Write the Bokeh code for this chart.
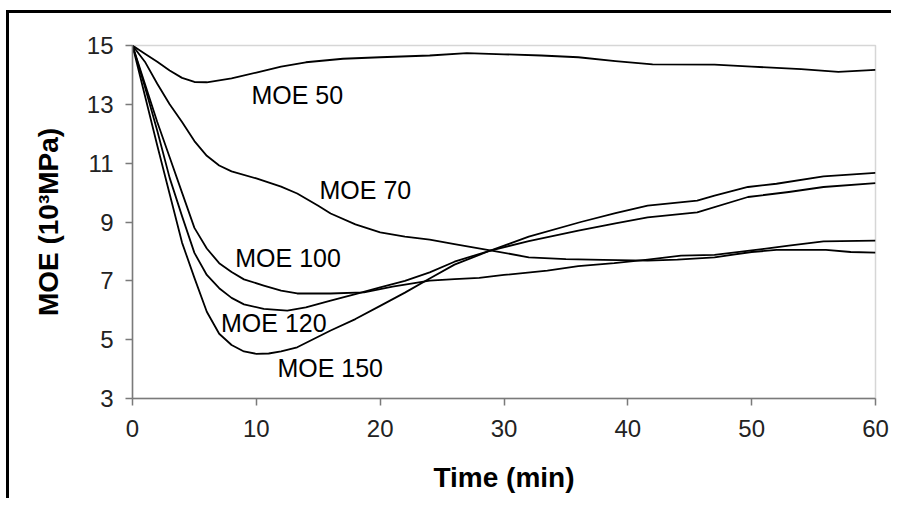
from bokeh.plotting import figure
from bokeh.models import FixedTicker, Range1d
from bokeh.core.properties import value
from bokeh.embed import file_html
from bokeh.resources import INLINE

# ---- data ----
t50 = [0, 1, 2, 3, 4, 5, 6, 8, 10, 12, 14, 17, 20, 24, 27, 30, 33, 36, 39, 42, 47, 50, 54, 57, 60]
v50 = [15.0, 14.72, 14.45, 14.15, 13.9, 13.76, 13.75, 13.88, 14.08, 14.28, 14.43, 14.55, 14.6, 14.66, 14.74,
       14.7, 14.66, 14.6, 14.47, 14.36, 14.35, 14.28, 14.2, 14.1, 14.17]

t70 = [0, 1, 2, 3, 4, 5, 6, 7, 8, 10, 12, 13.3, 15, 16, 18, 20, 22, 24, 26, 29, 32, 35, 38, 41.6, 44, 47, 50, 52, 56, 58, 60]
v70 = [15.0, 14.45, 13.7, 13.0, 12.4, 11.75, 11.25, 10.92, 10.72, 10.48, 10.2, 9.97, 9.55, 9.29, 8.92, 8.65, 8.5,
       8.4, 8.25, 8.03, 7.8, 7.74, 7.71, 7.69, 7.72, 7.8, 7.98, 8.05, 8.05, 7.98, 7.96]

t100 = [0, 1, 2, 3, 4, 5, 6, 7, 8, 9, 10.6, 12, 13.3, 16, 18.7, 21, 24, 26, 28, 30, 33.5, 36, 38.9, 41.6, 44.3, 47, 51, 53, 55.8, 60]
v100 = [15.0, 13.7, 12.4, 11.2, 10.0, 8.8, 8.1, 7.6, 7.3, 7.05, 6.84, 6.67, 6.57, 6.57, 6.61, 6.8, 7.01, 7.06,
        7.1, 7.2, 7.35, 7.5, 7.6, 7.72, 7.86, 7.88, 8.09, 8.2, 8.34, 8.37]

t120 = [0, 1, 2, 3, 4, 5, 6, 7, 8, 9, 10.6, 12.5, 14, 16, 18, 20, 22, 24, 26, 28.9, 32, 36, 39, 41.6, 45.6, 49.7, 53, 55.8, 60]
v120 = [15.0, 13.6, 12.1, 10.5, 9.2, 7.95, 7.2, 6.75, 6.42, 6.2, 6.05, 5.99, 6.1, 6.33, 6.55, 6.78, 7.0, 7.29,
        7.65, 8.03, 8.35, 8.71, 8.95, 9.16, 9.33, 9.85, 10.02, 10.19, 10.32]

t150 = [0, 1, 2, 3, 4, 5, 6, 7, 8, 9, 10, 11, 12, 13.3, 16, 18, 20, 22, 24, 26, 28.9, 32, 36.2, 39, 41.6, 45.6, 47, 49.7, 52, 55.8, 60]
v150 = [15.0, 13.3, 11.6, 9.95, 8.3, 7.1, 5.95, 5.2, 4.82, 4.6, 4.52, 4.53, 4.6, 4.74, 5.31, 5.7, 6.15, 6.6,
        7.08, 7.55, 8.03, 8.5, 9.0, 9.3, 9.56, 9.73, 9.9, 10.19, 10.3, 10.55, 10.67]

labels = ["MOE  50", "MOE  70", "MOE 100", "MOE 120", "MOE 150"]
label_t = [9.6, 15.1, 8.3, 7.15, 11.7]
label_v = [13.33, 10.09, 7.78, 5.55, 4.05]

x_ticks = [0, 10, 20, 30, 40, 50, 60]
y_ticks = [3, 5, 7, 9, 11, 13, 15]

FONT = "Liberation Sans"

p = figure(width=885, height=488, output_backend="svg", toolbar_location=None,
           x_range=Range1d(0, 60), y_range=Range1d(3, 15),
           min_border_left=123, min_border_right=19, min_border_top=32, min_border_bottom=103)
p.styles = {"border-left": "3px solid black", "border-top": "3px solid black",
            "margin-top": "10px", "margin-left": "6px"}

p.xgrid.visible = False
p.ygrid.visible = False
p.outline_line_color = "#d6d6d6"
p.outline_line_width = 1.5
p.background_fill_color = "white"
p.border_fill_color = "white"

for ax in (p.xaxis, p.yaxis):
    ax.axis_line_color = "#7a7a7a"
    ax.axis_line_width = 1.5
    ax.major_tick_line_color = "#7a7a7a"
    ax.major_tick_line_width = 1.5
    ax.major_tick_in = 0
    ax.major_tick_out = 7
    ax.minor_tick_line_color = None
    ax.major_label_text_font = FONT
    ax.major_label_text_font_size = "24px"
    ax.major_label_text_color = "#222222"
    ax.axis_label_text_font = FONT
    ax.axis_label_text_font_size = "28px"
    ax.axis_label_text_font_style = "bold"
    ax.axis_label_text_color = "black"

p.xaxis.ticker = FixedTicker(ticks=x_ticks)
p.yaxis.ticker = FixedTicker(ticks=y_ticks)
p.xaxis.major_label_standoff = 14
p.yaxis.major_label_standoff = 12
p.xaxis.axis_label = "Time (min)"
p.yaxis.axis_label = "MOE (10\u00b3MPa)"
p.xaxis.axis_label_standoff = 22
p.yaxis.axis_label_standoff = 20

for tt, vv in [(t50, v50), (t70, v70), (t100, v100), (t120, v120), (t150, v150)]:
    p.line(tt, vv, line_color="black", line_width=1.8, line_join="round")

p.text(x=label_t, y=label_v, text=labels, text_font=value(FONT), text_font_size="25px",
       text_color="black", text_baseline="middle", text_align="left")

open("out.html", "w").write(file_html(p, INLINE))
